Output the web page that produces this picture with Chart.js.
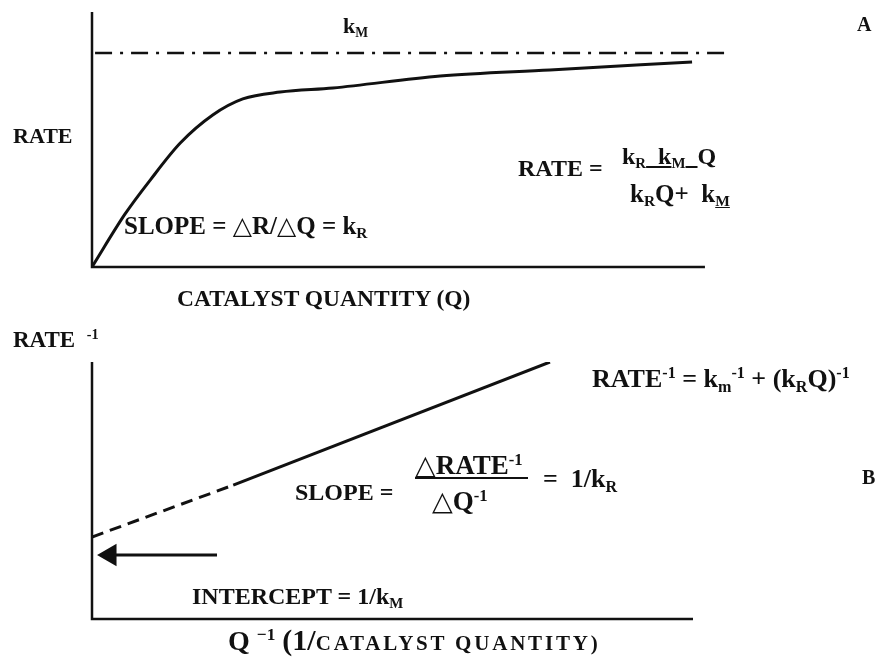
<!DOCTYPE html>
<html>
<head>
<meta charset="utf-8">
<script src="https://cdn.jsdelivr.net/npm/chart.js@4"></script>
<style>
  html, body { margin: 0; padding: 0; background: #fff; }
  #wrap { position: relative; width: 880px; height: 659px; overflow: hidden; }
  #wrap canvas { position: absolute; left: 0; }
  .t {
    position: absolute;
    font-family: "Liberation Serif", "Times New Roman", serif;
    font-weight: bold;
    color: #111;
    line-height: 1;
    white-space: nowrap;
  }
  .t sub { font-size: .62em; vertical-align: -0.28em; line-height: 0; }
  .t sup { font-size: .62em; vertical-align: 0.55em; line-height: 0; }
  .tri { font-family: "DejaVu Sans", sans-serif; font-weight: normal; }
  .frac { position: absolute; height: 2px; background: #111; }
</style>
</head>
<body>
<div id="wrap">
  <canvas id="chartA" width="880" height="300" style="top:0"></canvas>
  <canvas id="chartB" width="880" height="359" style="top:300px"></canvas>

  <!-- panel A texts -->
  <div class="t" style="left:343px;top:15px;font-size:22px">k<sub>M</sub></div>
  <div class="t" style="left:857px;top:14px;font-size:20px">A</div>
  <div class="t" style="left:13px;top:125px;font-size:22px">RATE</div>
  <div class="t" style="left:124px;top:213px;font-size:25px">SLOPE = <span class="tri">△</span>R/<span class="tri">△</span>Q = k<sub>R</sub></div>
  <div class="t" style="left:518px;top:156px;font-size:24px">RATE =</div>
  <div class="t" style="left:622px;top:144px;font-size:24px">k<sub>R</sub><u>&nbsp;&nbsp;k<sub>M</sub>&nbsp;&nbsp;</u>Q</div>
  <div class="t" style="left:630px;top:181px;font-size:25px">k<sub>R</sub>Q+&nbsp;&nbsp;k<sub><u>M</u></sub></div>
  <div class="t" style="left:177px;top:287px;font-size:23.5px">CATALYST QUANTITY (Q)</div>

  <!-- panel B texts -->
  <div class="t" style="left:13px;top:328px;font-size:23px">RATE&nbsp; <sup>-1</sup></div>
  <div class="t" style="left:592px;top:366px;font-size:26px">RATE<sup>-1</sup> = k<sub>m</sub><sup>-1</sup> + (k<sub>R</sub>Q)<sup>-1</sup></div>
  <div class="t" style="left:295px;top:480px;font-size:24px">SLOPE =</div>
  <div class="t" style="left:415px;top:451px;font-size:27px"><span class="tri">△</span>RATE<sup>-1</sup></div>
  <div class="frac" style="left:415px;top:477px;width:113px"></div>
  <div class="t" style="left:432px;top:487px;font-size:27px"><span class="tri">△</span>Q<sup>-1</sup></div>
  <div class="t" style="left:543px;top:466px;font-size:26px">= &nbsp;1/k<sub>R</sub></div>
  <div class="t" style="left:862px;top:467px;font-size:20px">B</div>
  <div class="t" style="left:192px;top:584px;font-size:24px">INTERCEPT = 1/k<sub>M</sub></div>
  <div class="t" style="left:228px;top:625px;font-size:28px">Q <sup>−1</sup> <span style="font-size:30px">(1/</span><span style="font-size:21px;letter-spacing:2.8px">CATALYST QUANTITY)</span></div>
</div>

<script>
// Panel A: rate vs catalyst quantity (arbitrary units 0-100)
const qA = [0, 5.4, 9.5, 14.4, 19.7, 24.6, 30.7, 39.3, 56.8, 74.7, 97.9];
const rateA = [0, 20.8, 34.1, 48.6, 59.6, 65.9, 68.6, 70.2, 74.9, 77.3, 80.4];
const kmLevel = 83.9;
const kmSpan = [0.5, 103.6];
const xMaxA = 103.6;
const axisEndA = 100;

// Panel B: inverse plot
const invQDashed = [0, 23.5];
const invRateDashed = [31.9, 52.1];
const invQSolid = [23.5, 76.2];
const invRateSolid = [52.1, 100];
const arrowX = [3.0, 20.8];
const arrowY = [24.9, 24.9];

const ink = '#111';

const pts = (xs, ys) => xs.map((x, i) => ({ x, y: ys[i] }));

// draws the L-shaped axes from the scales
const axesPlugin = {
  id: 'axes',
  beforeDatasetsDraw(chart, args, opts) {
    const { ctx, chartArea, scales } = chart;
    const xEnd = scales.x.getPixelForValue(opts.xEnd);
    ctx.save();
    ctx.strokeStyle = ink;
    ctx.lineWidth = 2.5;
    ctx.beginPath();
    ctx.moveTo(chartArea.left, chartArea.top);
    ctx.lineTo(chartArea.left, chartArea.bottom);
    ctx.lineTo(xEnd, chartArea.bottom);
    ctx.stroke();
    ctx.restore();
  }
};

function baseOptions(pad, xMax, xEnd) {
  return {
    responsive: false,
    animation: false,
    events: [],
    layout: { padding: pad },
    scales: {
      x: { type: 'linear', min: 0, max: xMax, display: false },
      y: { type: 'linear', min: 0, max: 100, display: false }
    },
    plugins: {
      legend: { display: false },
      tooltip: { enabled: false },
      axes: { xEnd }
    },
    elements: { point: { radius: 0 } }
  };
}

new Chart(document.getElementById('chartA'), {
  type: 'line',
  data: {
    datasets: [
      {
        data: pts(qA, rateA),
        borderColor: ink,
        borderWidth: 3,
        cubicInterpolationMode: 'monotone',
        fill: false
      },
      {
        data: pts(kmSpan, [kmLevel, kmLevel]),
        borderColor: ink,
        borderWidth: 2.5,
        borderDash: [17, 8, 3, 8],
        fill: false
      }
    ]
  },
  options: baseOptions({ left: 92, right: 153, top: 12, bottom: 33 }, xMaxA, axisEndA),
  plugins: [axesPlugin]
});

new Chart(document.getElementById('chartB'), {
  type: 'line',
  data: {
    datasets: [
      {
        data: pts(invQDashed, invRateDashed),
        borderColor: ink,
        borderWidth: 3,
        borderDash: [12, 7],
        fill: false
      },
      {
        data: pts(invQSolid, invRateSolid),
        borderColor: ink,
        borderWidth: 3,
        fill: false
      },
      {
        data: pts(arrowX, arrowY),
        borderColor: ink,
        borderWidth: 3,
        pointRadius: [10, 0],
        pointStyle: 'triangle',
        rotation: -90,
        pointBackgroundColor: ink,
        pointBorderColor: ink,
        fill: false
      }
    ]
  },
  options: baseOptions({ left: 92, right: 187, top: 62, bottom: 40 }, 100, 100),
  plugins: [axesPlugin]
});
</script>
</body>
</html>
